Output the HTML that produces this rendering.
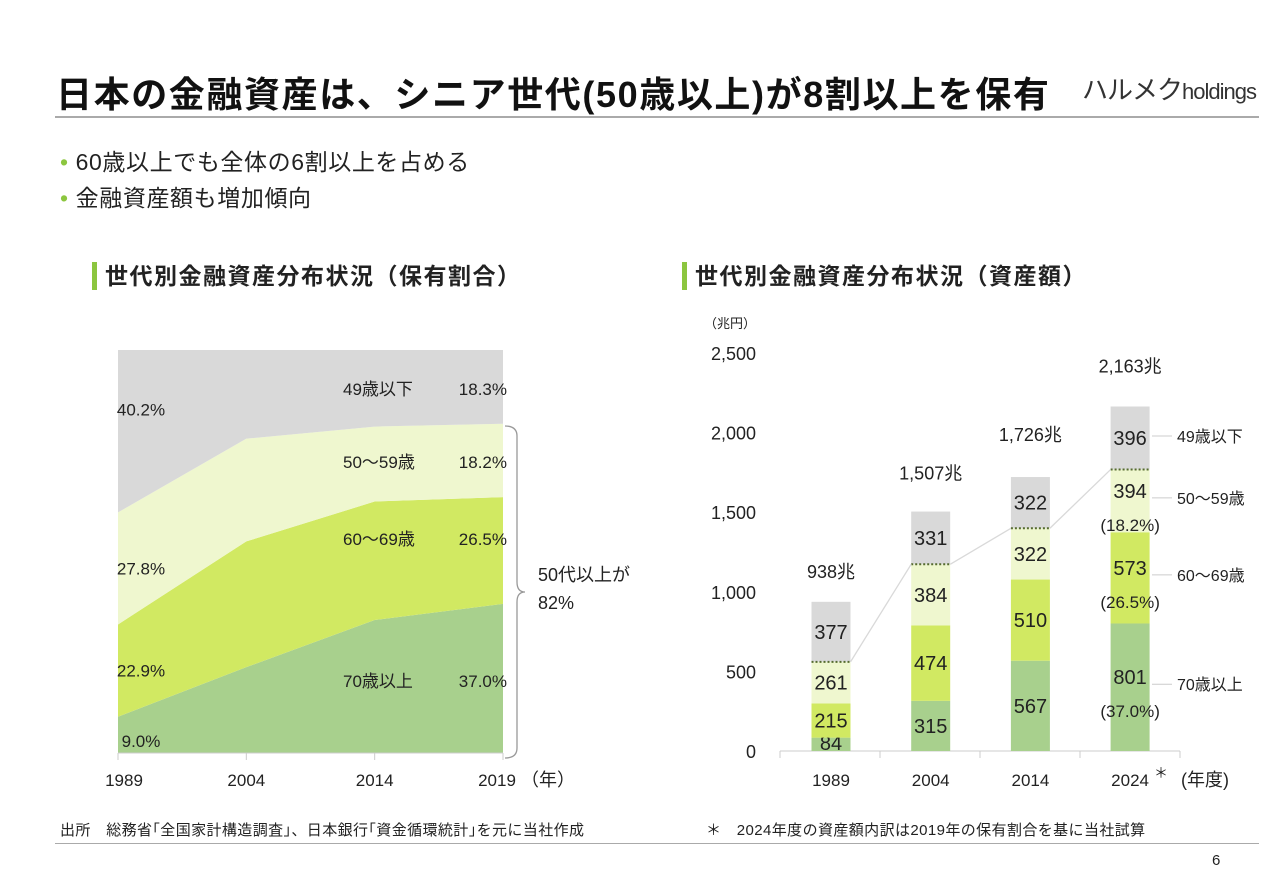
<!DOCTYPE html>
<html><head><meta charset="utf-8"><style>
body{margin:0;width:1280px;height:886px;background:#fff;font-family:"Liberation Sans","Noto Sans CJK JP",sans-serif;color:#222;position:relative;overflow:hidden}
.a{position:absolute;white-space:nowrap}
</style></head><body>
<div class="a" style="left:56px;top:66px;font-size:36px;letter-spacing:1.6px;font-weight:bold;color:#111">日本の金融資産は、シニア世代(50歳以上)が8割以上を保有</div>
<div class="a" style="left:1082px;top:70px;font-size:26px;color:#333;letter-spacing:-1px">ハルメク<span style="font-size:22px">holdings</span></div>
<div class="a" style="left:55px;top:116px;width:1204px;height:2px;background:#aaa"></div>
<div class="a" style="left:60px;top:143px;font-size:23px;letter-spacing:0.6px"><span style="color:#8cc63f">•</span>&nbsp;60歳以上でも全体の6割以上を占める</div>
<div class="a" style="left:60px;top:179px;font-size:23px;letter-spacing:0.6px"><span style="color:#8cc63f">•</span>&nbsp;金融資産額も増加傾向</div>
<div class="a" style="left:92px;top:262px;font-size:23px;letter-spacing:1.5px;font-weight:bold;border-left:5px solid #8cc63f;padding-left:8px;line-height:28px">世代別金融資産分布状況（保有割合）</div>
<div class="a" style="left:682px;top:262px;font-size:23px;letter-spacing:1.5px;font-weight:bold;border-left:5px solid #8cc63f;padding-left:8px;line-height:28px">世代別金融資産分布状況（資産額）</div>
<div class="a" style="left:60px;top:819px;font-size:15px;letter-spacing:0.4px">出所　総務省｢全国家計構造調査｣、日本銀行｢資金循環統計｣を元に当社作成</div>
<div class="a" style="left:706px;top:819px;font-size:15px;letter-spacing:0.4px">＊　2024年度の資産額内訳は2019年の保有割合を基に当社試算</div>
<div class="a" style="left:55px;top:843px;width:1204px;height:1px;background:#aaa"></div>
<div class="a" style="left:1212px;top:852px;font-size:15px">6</div>
<svg class="a" style="left:0;top:0" width="1280" height="886" id="svg" font-family="Liberation Sans, Noto Sans CJK JP, sans-serif"></svg>
<script>
const years=['1989','2004','2014','2019'];
const s70=[9.0,21.3,33.0,37.0];
const s60=[22.9,31.2,29.4,26.5];
const s50=[27.8,25.5,18.6,18.2];
const s49=[40.2,22.0,19.0,18.3];
const barYears=['1989','2004','2014','2024'];
const b70=[84,315,567,801];
const b60=[215,474,510,573];
const b50=[261,384,322,394];
const b49=[377,331,322,396];
const totals=['938兆','1,507兆','1,726兆','2,163兆'];
const yTicks=[0,500,1000,1500,2000,2500];
const NS='http://www.w3.org/2000/svg';
const svg=document.getElementById('svg');
function mk(t,a,p){const e=document.createElementNS(NS,t);for(const k in a)e.setAttribute(k,a[k]);(p||svg).appendChild(e);return e;}
function tx(x,y,s,size,anchor){const e=mk('text',{x:x,y:y,'font-size':size||16,'text-anchor':anchor||'middle',fill:'#222'});e.textContent=s;return e;}
const C={70:'#a8d08d',60:'#d1e962',50:'#eff7cf',49:'#d9d9d9'};
const lx=i=>118+i*(503-118)/(years.length-1);
const ly=v=>753-v/100*403;
const layers=[s70,s60,s50,s49],cols=[C[70],C[60],C[50],C[49]],lnames=['area-70-plus','area-60s','area-50s','area-49-under'];
let base=years.map(()=>0);
layers.forEach((s,k)=>{
 const top=base.map((b,i)=>b+s[i]);
 let pts=top.map((t,i)=>lx(i)+','+ly(k==3?100:t)).join(' ')+' '+base.map((b,i)=>lx(i)+','+ly(b)).reverse().join(' ');
 const p=mk('polygon',{points:pts,fill:cols[k]});
 
 
 base=top;
});
years.forEach((y,i)=>{const t=tx(lx(i)+(i==0?6:i==3?-6:0),786,y,17);
 mk('line',{x1:lx(i),x2:lx(i),y1:753,y2:760,stroke:'#ccc'});});
mk('line',{x1:118,x2:503,y1:753,y2:753,stroke:'#ccc'});
tx(548,786,'（年）',18);
let lb=0;[s70,s60,s50,s49].forEach((s,k)=>{const mid=lb+s[0]/2;lb+=s[0];
 const t=tx(141,ly(mid)+6+(k==0?6:0)+(k==3?-22:0),s[0].toFixed(1)+'%',17);});
const lastNames=['70歳以上','60～69歳','50～59歳','49歳以下'],ly19=[681,539,462,389];
[s70,s60,s50,s49].forEach((s,k)=>{tx(343,ly19[k]+6,lastNames[k],17,'start');tx(507,ly19[k]+6,s[3].toFixed(1)+'%',17,'end');});
mk('path',{d:'M505,426 q12,0 12,10 v146 q0,10 8,10 q-8,0 -8,10 v146 q0,10 -12,10',fill:'none',stroke:'#999','stroke-width':1.3});
tx(538,581,'50代以上が',18,'start');tx(538,609,'82%',18,'start');
const by=v=>751-v*(751-353)/2500;
const bx=i=>831+i*99.7;const bw=39;
yTicks.forEach(v=>{const t=tx(756,by(v)+7,v.toLocaleString('en-US'),18,'end');});
tx(730,328,'（兆円）',13);
mk('line',{x1:780,x2:1180,y1:751,y2:751,stroke:'#ccc'});
[780,880,980,1080,1180].forEach(x=>mk('line',{x1:x,x2:x,y1:751,y2:758,stroke:'#ccc'}));
const segs=[b70,b60,b50,b49],scol=[C[70],C[60],C[50],C[49]],sname=['bar-70-plus','bar-60s','bar-50s','bar-49-under'];
const tops50=[];
barYears.forEach((yr,i)=>{let b=0;
 segs.forEach((s,k)=>{const r=mk('rect',{x:bx(i)-bw/2,y:by(b+s[i]),width:bw,height:by(b)-by(b+s[i]),fill:scol[k]});
  
  
  const mid=(by(b)+by(b+s[i]))/2;const off=i==3&&k<3?-10:0;
  let yy=mid+7+off; if(i==0&&k==0) yy=by(0)-1;
  tx(bx(i),yy,s[i],20);
  b+=s[i]; if(k==2) tops50.push(b);});
 mk('line',{x1:bx(i)-bw/2,x2:bx(i)+bw/2,y1:by(tops50[i]),y2:by(tops50[i]),stroke:'#556b2f','stroke-width':2,'stroke-dasharray':'2,2'});
 const t=tx(bx(i),by(b)-(i==0?24:i==1?32:i==2?36:34),totals[i],18);
 tx(bx(i),786,yr,17);
});
for(let i=0;i<3;i++)mk('line',{x1:bx(i)+bw/2,y1:by(tops50[i]),x2:bx(i+1)-bw/2,y2:by(tops50[i+1]),stroke:'#d9d9d9','stroke-width':1.3});
tx(1161,778,'＊',14);tx(1205,786,'(年度)',18);
const pct=['(37.0%)','(26.5%)','(18.2%)'];let b3=0;
segs.forEach((s,k)=>{const mid=(by(b3)+by(b3+s[3]))/2;b3+=s[3];
 if(k<3)tx(bx(3),mid+30,pct[k],17);
 const yl=k==3?mid-2:mid-3;
 mk('line',{x1:1152,x2:1172,y1:yl,y2:yl,stroke:'#ccc'});
 const t=tx(1177,yl+6,lastNames[k],16,'start');});
</script>
</body></html>
